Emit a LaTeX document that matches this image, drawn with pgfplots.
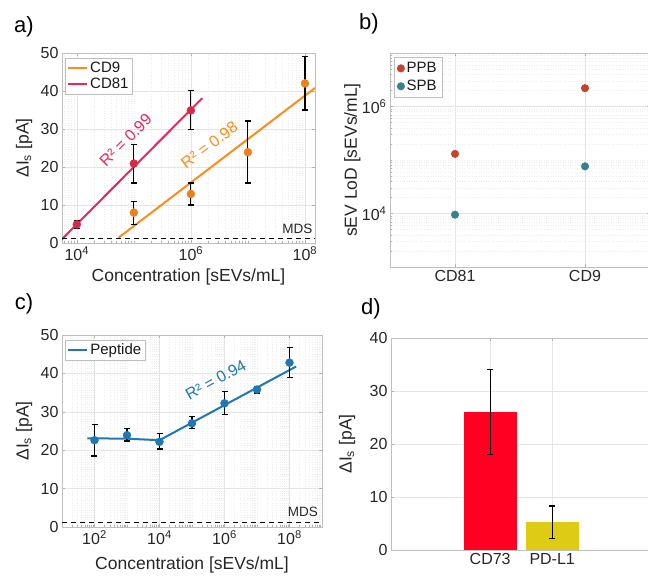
\documentclass[border=0pt]{standalone}
\usepackage{fontspec}
\setmainfont{Liberation Sans}
\usepackage{pgfplots}
\pgfplotsset{compat=1.18}
\definecolor{cdnine}{RGB}{255,140,26}
\definecolor{cdnineM}{RGB}{238,128,28}
\definecolor{cdeightone}{RGB}{232,40,90}
\definecolor{cdeightoneM}{RGB}{214,42,72}
\definecolor{pep}{RGB}{31,119,180}
\definecolor{ppb}{RGB}{200,65,45}
\definecolor{spb}{RGB}{55,130,140}
\definecolor{cdsev}{RGB}{255,0,35}
\definecolor{pdl}{RGB}{222,204,20}
\pgfplotsset{base/.style={anchor=south west, scale only axis,
  axis line style={draw=gray!50}, every tick/.style={gray!60},
  tick align=inside, major tick length=3pt, minor tick length=1.5pt,
  grid=both, major grid style={gray!20, line width=0.5pt},
  minor grid style={gray!14, line width=0.4pt, dotted},
  tick label style={font=\fontsize{16}{19}\selectfont, text=black!85},
  label style={font=\fontsize{17.5}{20}\selectfont, text=black!85},
  /pgf/number format/assume math mode=true,
  legend style={font=\fontsize{15}{17}\selectfont, draw=gray!50, text=black!90, inner sep=2pt, row sep=0pt},
  legend cell align=left},
  linelegend/.style={legend image code/.code={\draw[##1, line width=2pt] (0pt,0pt) -- (19pt,0pt);}},
  ebar/.style={error bars/.cd, y dir=both, y explicit,
  error bar style={black, line width=1.1pt},
  error mark options={black, rotate=90, mark size=3pt, line width=1.1pt}}}
\begin{document}
\begin{tikzpicture}
\useasboundingbox (0,0) rectangle (648pt,577pt);
\clip (0,0) rectangle (648pt,577pt);
% ---------------- panel a
\begin{axis}[base, linelegend, at={(62pt,334pt)}, width=253pt, height=190pt,
  xmode=log, xmin=5500, xmax=1.5e8, ymin=0, ymax=50,
  xtick={1e4,1e6,1e8}, xticklabels={10\textsuperscript{4},10\textsuperscript{6},10\textsuperscript{8}},
  minor xtick={6e3,7e3,8e3,9e3,2e4,3e4,4e4,5e4,6e4,7e4,8e4,9e4,1e5,2e5,3e5,4e5,5e5,6e5,7e5,8e5,9e5,2e6,3e6,4e6,5e6,6e6,7e6,8e6,9e6,1e7,2e7,3e7,4e7,5e7,6e7,7e7,8e7,9e7},
  ytick={0,10,20,30,40,50},
  xlabel={Concentration [sEVs/mL]}, ylabel={ΔI\textsubscript{s} [pA]},
  xlabel style={at={(axis description cs:0.5,-0.18)}, anchor=center},
  ylabel style={at={(axis description cs:-0.15,0.5)}, anchor=center},
  legend style={at={(0.012,0.975)}, anchor=north west}]
\addplot[cdnine, line width=2pt] coordinates {(5.4e4,1.4) (1.5e8,40.8)};
\addlegendentry{CD9}
\addplot[cdeightone, line width=2pt] coordinates {(5.4e3,0.9) (1.58e6,38.1)};
\addlegendentry{CD81}
\addplot[black, line width=1pt, dash pattern=on 5pt off 4pt, forget plot] coordinates {(5500,1.3) (1.5e8,1.3)};
\addplot[only marks, mark=*, mark size=4pt, color=cdnineM, forget plot, ebar] table[x=x, y=y, y error plus=ep, y error minus=em] {
x y ep em
1e5 8.0 2.9 3.2
1e6 12.9 2.9 2.9
1e7 23.9 8.2 8.1
1e8 42.0 7.0 7.0
};
\addplot[only marks, mark=*, mark size=4pt, color=cdeightoneM, forget plot, ebar] table[x=x, y=y, y error plus=ep, y error minus=em] {
x y ep em
1e4 4.9 1.0 1.1
1e5 20.9 5.1 5.1
1e6 34.9 5.2 5.1
};
\node[rotate=45, text=cdeightone, font=\fontsize{16}{18}\selectfont] at (axis cs:7.2e4,27.1) {R² = 0.99};
\node[rotate=37, text=cdnine, font=\fontsize{16}{18}\selectfont] at (axis cs:2.1e6,25.8) {R² = 0.98};
\node[anchor=south east, inner sep=0pt, font=\fontsize{13.5}{15}\selectfont, text=black!85] at (rel axis cs:0.99,0.05) {MDS};
\end{axis}
% ---------------- panel b
\begin{axis}[base, at={(390pt,310pt)}, width=260pt, height=214pt,
  xmin=0.5, xmax=2.5, ymode=log, ymin=1e3, ymax=1e7,
  xtick={1,2}, xticklabels={CD81,CD9},
  ytick={1e4,1e6}, yticklabels={10\textsuperscript{4},10\textsuperscript{6}},
  minor ytick={2e3,3e3,4e3,5e3,6e3,7e3,8e3,9e3,2e4,3e4,4e4,5e4,6e4,7e4,8e4,9e4,1e5,2e5,3e5,4e5,5e5,6e5,7e5,8e5,9e5,2e6,3e6,4e6,5e6,6e6,7e6,8e6,9e6},
  ylabel={sEV LoD [sEVs/mL]},
  ylabel style={at={(axis description cs:-0.145,0.5)}, anchor=center},
  legend style={at={(0.015,0.98)}, anchor=north west, inner sep=3pt, row sep=2pt}]
\addplot[only marks, mark=*, mark size=3.8pt, color=ppb] coordinates {(1,1.3e5) (2,2.2e6)};
\addlegendentry{PPB}
\addplot[only marks, mark=*, mark size=3.8pt, color=spb] coordinates {(1,9.5e3) (2,7.6e4)};
\addlegendentry{SPB}
\end{axis}
% ---------------- panel c
\begin{axis}[base, linelegend, at={(62pt,50pt)}, width=260pt, height=192pt,
  xmode=log, xmin=1e1, xmax=1e9, ymin=0, ymax=50,
  xtick={1e2,1e4,1e6,1e8}, xticklabels={10\textsuperscript{2},10\textsuperscript{4},10\textsuperscript{6},10\textsuperscript{8}},
  minor xtick={2e1,3e1,4e1,5e1,6e1,7e1,8e1,9e1,2e2,3e2,4e2,5e2,6e2,7e2,8e2,9e2,1e3,2e3,3e3,4e3,5e3,6e3,7e3,8e3,9e3,2e4,3e4,4e4,5e4,6e4,7e4,8e4,9e4,1e5,2e5,3e5,4e5,5e5,6e5,7e5,8e5,9e5,2e6,3e6,4e6,5e6,6e6,7e6,8e6,9e6,1e7,2e7,3e7,4e7,5e7,6e7,7e7,8e7,9e7,2e8,3e8,4e8,5e8,6e8,7e8,8e8,9e8},
  ytick={0,10,20,30,40,50},
  xlabel={Concentration [sEVs/mL]}, ylabel={ΔI\textsubscript{s} [pA]},
  xlabel style={at={(axis description cs:0.5,-0.2)}, anchor=center},
  ylabel style={at={(axis description cs:-0.146,0.5)}, anchor=center},
  legend style={at={(0.012,0.975)}, anchor=north west}]
\addplot[pep, line width=2pt] coordinates {(6e1,23.1) (1e3,23.0) (1e4,22.6) (1.6e8,41.8)};
\addlegendentry{Peptide}
\addplot[black, line width=1pt, dash pattern=on 5pt off 4pt, forget plot] coordinates {(1e1,1.3) (1e9,1.3)};
\addplot[only marks, mark=*, mark size=4pt, color=pep, forget plot, ebar] table[x=x, y=y, y error plus=ep, y error minus=em] {
x y ep em
1e2 22.6 4.1 4.1
1e3 23.9 1.7 1.5
1e4 22.2 2.1 1.9
1e5 27.0 1.7 1.4
1e6 32.2 3.0 2.8
1e7 35.8 0.7 0.9
1e8 42.8 3.9 3.9
};
\node[rotate=29, text=pep, font=\fontsize{16}{18}\selectfont] at (axis cs:5.4e5,38.3) {R² = 0.94};
\node[anchor=south east, inner sep=0pt, font=\fontsize{13.5}{15}\selectfont, text=black!85] at (rel axis cs:0.985,0.052) {MDS};
\end{axis}
% ---------------- panel d
\begin{axis}[base, at={(391pt,27pt)}, width=262pt, height=212pt,
  xmin=-0.6, xmax=3.626, ymin=0, ymax=40,
  xtick={1,2}, xticklabels={CD73,PD-L1}, minor xtick={},
  ytick={0,10,20,30,40},
  ylabel={ΔI\textsubscript{s} [pA]},
  ylabel style={at={(axis description cs:-0.168,0.5)}, anchor=center}]
\addplot[ybar, bar shift=0pt, bar width=53pt, fill=cdsev, draw=none, ebar] coordinates {(1,26) +- (0,8)};
\addplot[ybar, bar shift=0pt, bar width=53pt, fill=pdl, draw=none, ebar] table[x=x, y=y, y error plus=ep, y error minus=em] {
x y ep em
2 5.2 3.1 3.0
};
\end{axis}
% ---------------- panel letters
\node[font=\fontsize{22}{25}\selectfont] at (24pt,550pt) {a)};
\node[font=\fontsize{22}{25}\selectfont] at (369pt,553pt) {b)};
\node[font=\fontsize{22}{25}\selectfont] at (24pt,273pt) {c)};
\node[font=\fontsize{22}{25}\selectfont] at (371pt,268pt) {d)};
\end{tikzpicture}
\end{document}
